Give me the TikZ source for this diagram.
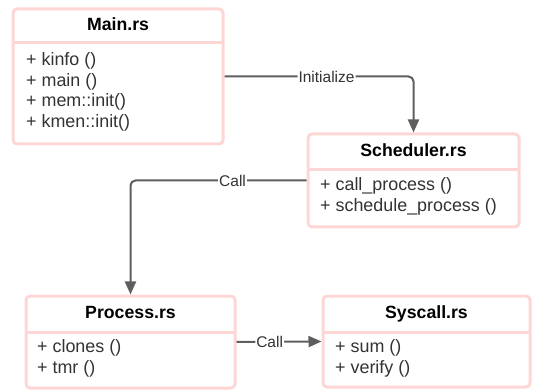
\documentclass[tikz,border=0pt]{standalone}
\usepackage{fontspec}
\setmainfont{Liberation Sans}
\usetikzlibrary{arrows.meta}
\definecolor{boxpink}{HTML}{FFD6D6}
\definecolor{wire}{HTML}{5E5E5E}
\definecolor{ink}{HTML}{333333}
\begin{document}
\begin{tikzpicture}[x=1pt,y=-1pt,
  classbox/.style={draw=boxpink, line width=3pt, rounded corners=4pt, fill=white, inner sep=0pt},
  divider/.style={draw=boxpink, line width=3pt},
  classtitle/.style={font=\fontsize{17.7}{21}\selectfont\bfseries, text=black, inner sep=0pt, text height=12.5pt, text depth=3.5pt},
  member/.style={font=\fontsize{17.9}{21}\selectfont, text=ink, inner sep=0pt, anchor=west, text height=12.5pt, text depth=3.5pt},
  wirelabel/.style={font=\fontsize{15.5}{18}\selectfont, text=ink, fill=white, inner sep=1pt},
  link/.style={draw=wire, line width=2pt, rounded corners=5pt, -{Triangle[length=13pt,width=11pt]}}]
\useasboundingbox (0,0) rectangle (533,390);

% Main.rs
\node[classbox, minimum width=210pt, minimum height=135pt] (main) at (118,76.5) {};
\draw[divider] (13,43) -- (223,43);
\node[classtitle] (mainT) at (118,26) {Main.rs};
\node[member] (mainA) at (26,61.5) {+ kinfo ()};
\node[member] (mainB) at (26,82) {+ main ()};
\node[member] (mainC) at (26,102.5) {+ mem::init()};
\node[member] (mainD) at (26,123) {+ kmen::init()};

% Scheduler.rs
\node[classbox, minimum width=211pt, minimum height=93pt] (sched) at (413.5,180.5) {};
\draw[divider] (308,170) -- (519,170);
\node[classtitle] (schedT) at (413.5,152) {Scheduler.rs};
\node[member] (schedA) at (320,186) {+ call\_process ()};
\node[member] (schedB) at (320,207) {+ schedule\_process ()};

% Process.rs
\node[classbox, minimum width=209pt, minimum height=92pt] (proc) at (130.5,342) {};
\draw[divider] (26,332) -- (235,332);
\node[classtitle] (procT) at (130.5,314) {Process.rs};
\node[member] (procA) at (37,348) {+ clones ()};
\node[member] (procB) at (37,369) {+ tmr ()};

% Syscall.rs
\node[classbox, minimum width=207pt, minimum height=91pt] (sys) at (426.5,341.5) {};
\draw[divider] (323,332) -- (530,332);
\node[classtitle] (sysT) at (426.5,314) {Syscall.rs};
\node[member] (sysA) at (335,348) {+ sum ()};
\node[member] (sysB) at (335,369) {+ verify ()};

% Connectors
\draw[link] (main.east) -- node[wirelabel, pos=0.54] (lblInit) {Initialize} (main.east -| sched.north) -- (sched.north);
\draw[link] (sched.west) -- node[wirelabel, pos=0.42] (lblCall1) {Call} (sched.west -| proc.north) -- (proc.north);
\draw[link] (proc.east) -- node[wirelabel, pos=0.39] (lblCall2) {Call} (sys.west);
\end{tikzpicture}
\end{document}
